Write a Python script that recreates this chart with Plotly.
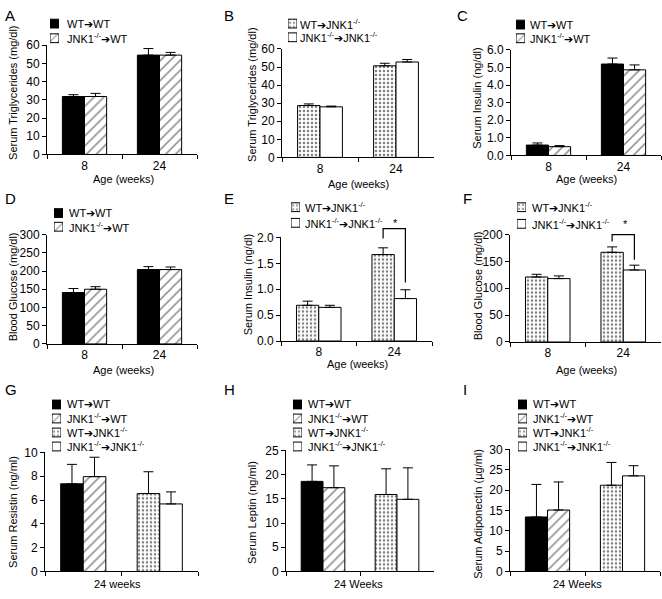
import plotly.graph_objects as go

FONT = "Arial, Liberation Sans, sans-serif"
W, H = 662, 599

# ---- data ----
ages = ["8", "24"]

# A: serum triglycerides, WT recipients
tg_wtwt = [31.8, 54.5]
tg_wtwt_err = [1.0, 3.6]
tg_kowt = [31.8, 54.5]
tg_kowt_err = [1.7, 1.5]

# B: serum triglycerides, JNK1-/- recipients
tg_wtko = [28.7, 50.7]
tg_wtko_err = [0.9, 1.4]
tg_koko = [28.0, 52.8]
tg_koko_err = [0.4, 1.4]

# C: serum insulin, WT recipients
ins_wtwt = [0.59, 5.2]
ins_wtwt_err = [0.12, 0.34]
ins_kowt = [0.50, 4.87]
ins_kowt_err = [0.06, 0.28]

# D: blood glucose, WT recipients
glu_wtwt = [141, 204]
glu_wtwt_err = [11, 8]
glu_kowt = [150, 204]
glu_kowt_err = [7, 7]

# E: serum insulin, JNK1-/- recipients
ins_wtko = [0.69, 1.67]
ins_wtko_err = [0.08, 0.13]
ins_koko = [0.65, 0.82]
ins_koko_err = [0.04, 0.17]

# F: blood glucose, JNK1-/- recipients
glu_wtko = [121, 167]
glu_wtko_err = [5, 10]
glu_koko = [118, 134]
glu_koko_err = [5, 9]

# G, H, I: 24 weeks, order WT->WT, JNK1->WT, WT->JNK1, JNK1->JNK1
resistin = [7.36, 7.96, 6.54, 5.67]
resistin_err = [1.63, 1.63, 1.83, 1.01]
leptin = [18.6, 17.3, 15.9, 14.9]
leptin_err = [3.4, 4.5, 5.3, 6.5]
adipo = [13.4, 15.1, 21.2, 23.5]
adipo_err = [8.0, 6.9, 5.6, 2.5]

# significance brackets (E, F): top, left foot, right foot
bracket_e = [2.17, 1.98, 1.13]
bracket_f = [200, 187, 153]

names = ["WT\u2794WT", "JNK1<sup>-/-</sup>\u2794WT",
         "WT\u2794JNK1<sup>-/-</sup>", "JNK1<sup>-/-</sup>\u2794JNK1<sup>-/-</sup>"]

# ---- styles ----
HATCH = dict(shape="/", fgcolor="black", bgcolor="white", size=7, solidity=0.2)
DOTS = dict(shape=".", fgcolor="black", bgcolor="white", size=4, solidity=0.32)
solid = dict(color="black")
hatch = dict(color="white", pattern=HATCH)
dots = dict(color="white", pattern=DOTS)
empty = dict(color="white")
styles = [solid, hatch, dots, empty]
sw_color = ["black", "white", "white", "white"]
sw_shape = ["", "/", ".", ""]
sw_size = [7, 6, 4, 7]
sw_solid = [0.2, 0.2, 0.32, 0.2]

BARGAP = 0.41


def px(x):
    return x / W


def py(y):
    return 1 - y / H


# panel geometry in pixels: x0, x1, y_top, y_bottom
panels = [
    (47, 197, 39, 151), (282, 434, 43, 154), (511, 661, 44, 152),
    (47, 197, 233, 345), (281, 432, 236, 342), (510, 661, 233, 343),
    (45, 198, 456, 578), (286, 434, 454, 578), (510, 660, 453, 578),
]

yranges = [(0, 60, 10, ""), (0, 60, 10, ""), (0, 6, 1, ".1f"),
           (0, 300, 50, ""), (0, 2, 0.5, ".1f"), (0, 200, 50, ""),
           (0, 10, 2, ""), (0, 25, 5, ""), (0, 30, 5, "")]

# legends: swatch left, text left, row centres, series shown
legends = [
    (50, 65, [17, 32], [0, 1]), (288, 298, [17, 31], [2, 3]), (516, 528, [18, 32], [0, 1]),
    (54, 67, [211, 225], [0, 1]), (291, 303, [205, 221], [2, 3]), (517, 530, [205, 222], [2, 3]),
    (52, 65, [407, 421, 435, 450], [0, 1, 2, 3]), (293, 306, [407, 421, 435, 450], [0, 1, 2, 3]),
    (518, 531, [407, 421, 435, 450], [0, 1, 2, 3]),
]
SW = 9  # swatch size

fig = go.Figure()


def bar(k, name, x, y, err, style, offsetgroup=None):
    sfx = "" if k == 1 else str(k)
    fig.add_trace(go.Bar(
        x=x, y=y, name=name, xaxis="x" + sfx, yaxis="y" + sfx,
        showlegend=False, offsetgroup=offsetgroup,
        marker=dict(line=dict(color="black", width=1), **style),
        error_y=dict(type="data", array=err, arrayminus=[0] * len(err), symmetric=False,
                     color="black", thickness=1, width=5),
    ))


bar(1, names[0], ages, tg_wtwt, tg_wtwt_err, solid)
bar(1, names[1], ages, tg_kowt, tg_kowt_err, hatch)
bar(2, names[2], ages, tg_wtko, tg_wtko_err, dots)
bar(2, names[3], ages, tg_koko, tg_koko_err, empty)
bar(3, names[0], ages, ins_wtwt, ins_wtwt_err, solid)
bar(3, names[1], ages, ins_kowt, ins_kowt_err, hatch)
bar(4, names[0], ages, glu_wtwt, glu_wtwt_err, solid)
bar(4, names[1], ages, glu_kowt, glu_kowt_err, hatch)
bar(5, names[2], ages, ins_wtko, ins_wtko_err, dots)
bar(5, names[3], ages, ins_koko, ins_koko_err, empty)
bar(6, names[2], ages, glu_wtko, glu_wtko_err, dots)
bar(6, names[3], ages, glu_koko, glu_koko_err, empty)

groups = ["g1", "g1", "g2", "g2"]
for k, vals, errs in [(7, resistin, resistin_err), (8, leptin, leptin_err), (9, adipo, adipo_err)]:
    for i in range(4):
        bar(k, names[i], [groups[i]], [vals[i]], [errs[i]], styles[i], offsetgroup=str(i % 2))

layout = dict(
    width=W, height=H, margin=dict(l=0, r=0, t=0, b=0),
    paper_bgcolor="white", plot_bgcolor="white",
    barmode="group", bargap=BARGAP, showlegend=False,
    font=dict(family=FONT, size=11, color="black"),
)

ann = []

for i, (x0, x1, yt, yb) in enumerate(panels):
    k = i + 1
    sfx = "" if k == 1 else str(k)
    lo, hi, dt, fmt = yranges[i]
    layout["xaxis" + sfx] = dict(
        domain=[px(x0), px(x1)], anchor="y" + sfx, type="category",
        showline=True, linecolor="black", linewidth=1, showgrid=False,
        ticks="outside", ticklen=4, tickcolor="black", tickson="boundaries",
        showticklabels=k <= 6, tickfont=dict(size=12), fixedrange=True,
    )
    layout["yaxis" + sfx] = dict(
        domain=[py(yb), py(yt)], anchor="x" + sfx, range=[lo, hi], dtick=dt,
        tickformat=fmt, showline=True, linecolor="black", linewidth=1,
        showgrid=False, zeroline=False, ticks="outside", ticklen=4,
        tickcolor="black", tickfont=dict(size=12), fixedrange=True,
    )

    # legend: small patterned swatches drawn as bars on a hidden axis pair, text as annotations
    sx, tx, rows, idx = legends[i]
    n = len(rows)
    pitch = (rows[-1] - rows[0]) / (n - 1)
    lk = str(k + 9)
    layout["xaxis" + lk] = dict(domain=[px(sx), px(sx + SW)], range=[0, 1], visible=False,
                                anchor="y" + lk, fixedrange=True)
    layout["yaxis" + lk] = dict(domain=[py(rows[-1] + pitch / 2), py(rows[0] - pitch / 2)],
                                range=[n - 0.5, -0.5], visible=False, anchor="x" + lk,
                                fixedrange=True)
    fig.add_trace(go.Bar(
        x=[1] * n, y=list(range(n)), orientation="h", width=SW / pitch,
        xaxis="x" + lk, yaxis="y" + lk, showlegend=False, cliponaxis=False, hoverinfo="skip",
        marker=dict(color=[sw_color[j] for j in idx], line=dict(color="black", width=1),
                    pattern=dict(shape=[sw_shape[j] for j in idx], fgcolor="black",
                                 bgcolor="white", size=[sw_size[j] for j in idx],
                                 solidity=[sw_solid[j] for j in idx])),
    ))
    for r, j in zip(rows, idx):
        ann.append(dict(text=names[j], x=px(tx), y=py(r), xanchor="left", yanchor="middle",
                        font=dict(size=11)))

fig.update_layout(**layout)

# significance brackets on the 24-week group (axis-domain coordinates so they may rise above the frame)
half = (1 - BARGAP) / 4
for k, (top, left, right) in [(5, bracket_e), (6, bracket_f)]:
    hi = yranges[k - 1][1]
    xl = (1 - half + 0.5) / 2
    xr = (1 + half + 0.5) / 2
    fig.add_shape(type="path", xref=f"x{k} domain", yref=f"y{k} domain",
                  path=f"M {xl},{left / hi} L {xl},{top / hi} L {xr},{top / hi} L {xr},{right / hi}",
                  line=dict(color="black", width=1.2))

# panel letters
for letter, x, y in [("A", 3, 9), ("B", 222, 9), ("C", 455, 9),
                     ("D", 3, 196), ("E", 222, 196), ("F", 461, 196),
                     ("G", 3, 392), ("H", 222, 392), ("I", 461, 392)]:
    ann.append(dict(text=letter, x=px(x), y=py(y), xanchor="left", yanchor="middle",
                    font=dict(size=15)))

# y-axis titles
for text, x, y in [("Serum Triglycerides (mg/dl)", 13, 88), ("Serum Triglycerides (mg/dl)", 252, 90),
                   ("Serum Insulin (ng/dl)", 477, 93), ("Blood Glucose (mg/dl)", 13, 287),
                   ("Serum Insulin (ng/dl)", 248, 284), ("Blood Glucose (mg/dl)", 478, 286),
                   ("Serum Resistin (ng/ml)", 13, 517), ("Serum Leptin (ng/ml)", 252, 518),
                   ("Serum Adiponectin (\u00b5g/ml)", 478, 519)]:
    ann.append(dict(text=text, x=px(x), y=py(y), textangle=-90, xanchor="center",
                    yanchor="middle", font=dict(size=11)))

# x-axis titles
for text, x, y in [("Age (weeks)", 123, 176), ("Age (weeks)", 358, 181), ("Age (weeks)", 586, 176),
                   ("Age (weeks)", 123, 372), ("Age (weeks)", 357, 366), ("Age (weeks)", 586, 372),
                   ("24 weeks", 118, 591), ("24 Weeks", 358, 591), ("24 Weeks", 577, 591)]:
    ann.append(dict(text=text, x=px(x), y=py(y), xanchor="center", yanchor="middle",
                    font=dict(size=11)))

# stars
for x, y in [(395, 221), (625, 222)]:
    ann.append(dict(text="*", x=px(x), y=py(y), xanchor="center", yanchor="middle",
                    font=dict(size=11)))

for a in ann:
    a.update(xref="paper", yref="paper", showarrow=False)
fig.update_layout(annotations=ann)

# the page's default body margin would push the figure 8px off; remove it
fig.write_html("out.html", config={"displayModeBar": False},
               post_script="document.body.style.margin = '0';")
